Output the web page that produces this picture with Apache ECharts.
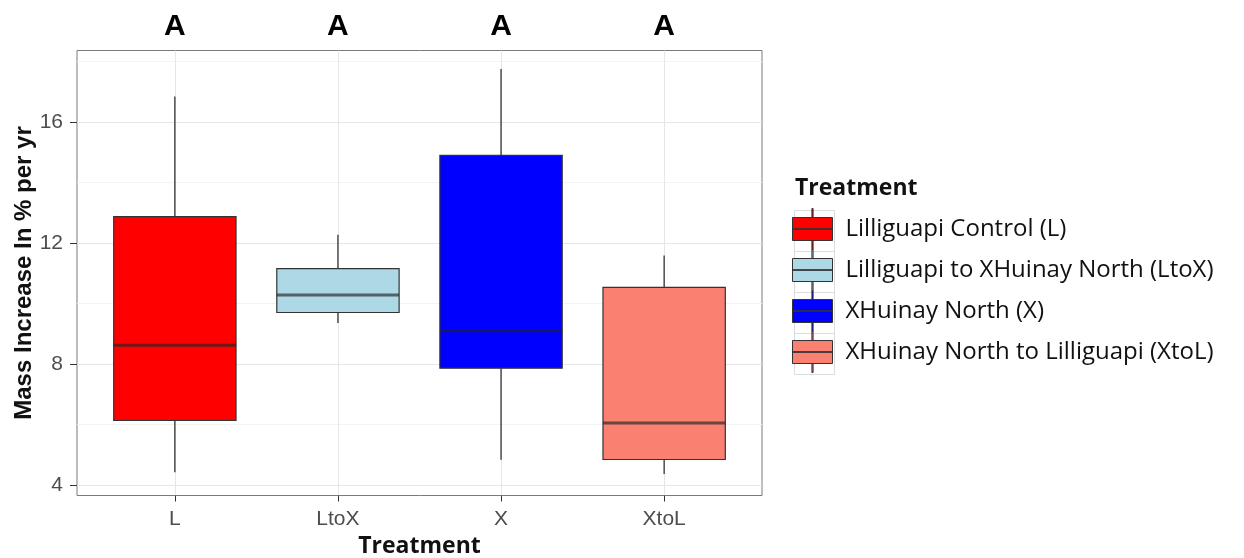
<!DOCTYPE html>
<html>
<head>
<meta charset="utf-8">
<script src="https://cdn.jsdelivr.net/npm/echarts@6/dist/echarts.min.js"></script>
<style>
html,body{margin:0;padding:0;background:#fff;}
#chart{width:1244px;height:558px;}
</style>
</head>
<body>
<div id="chart"></div>
<script>
// ---- data ----
const categories = ['L', 'LtoX', 'X', 'XtoL'];
const seriesNames = ['Lilliguapi Control (L)', 'Lilliguapi to XHuinay North (LtoX)', 'XHuinay North (X)', 'XHuinay North to Lilliguapi (XtoL)'];
const lowWhisker  = [4.42, 9.35, 4.83, 4.36];
const q1          = [6.13, 9.70, 7.86, 4.84];
const median      = [8.62, 10.28, 9.10, 6.05];
const q3          = [12.87, 11.15, 14.89, 10.53];
const highWhisker = [16.84, 12.27, 17.75, 11.58];
const sigLetters  = ['A', 'A', 'A', 'A'];
const yMajorTicks = [4, 8, 12, 16];
const yMinorTicks = [6, 10, 14, 18];
const xTickPositions = [1, 2, 3, 4];
const fillColors = ['#FF0000', '#ADD8E6', '#0000FF', '#FA8072'];

// ---- chart ----
const chart = echarts.init(document.getElementById('chart'));
const Y_MIN = 3.65, Y_MAX = 18.36;
const keyIcon = 'path://M3,9 H37 V32 H3 Z M19.5,0 H20.5 V9 H19.5 Z M19.5,32 H20.5 V41 H19.5 Z M3,20.5 H37 M37,20.5 H3 Z';

function renderBox(params, api) {
  const x = api.value(0);
  const pLo = api.coord([x, api.value(1)]);
  const pQ1 = api.coord([x, api.value(2)]);
  const pMed = api.coord([x, api.value(3)]);
  const pQ3 = api.coord([x, api.value(4)]);
  const pHi = api.coord([x, api.value(5)]);
  const half = api.size([0.75, 0])[0] / 2;
  const cx = pMed[0];
  const lineStyle = { stroke: '#333333', lineWidth: 1.3 };
  return {
    type: 'group',
    children: [
      { type: 'line', shape: { x1: cx, y1: pHi[1], x2: cx, y2: pQ3[1] }, style: lineStyle },
      { type: 'line', shape: { x1: cx, y1: pQ1[1], x2: cx, y2: pLo[1] }, style: lineStyle },
      { type: 'rect', shape: { x: cx - half, y: pQ3[1], width: half * 2, height: pQ1[1] - pQ3[1] },
        style: { fill: api.visual('color'), stroke: '#333333', lineWidth: 1.2 } },
      { type: 'line', shape: { x1: cx - half, y1: pMed[1], x2: cx + half, y2: pMed[1] },
        style: { stroke: 'rgba(35,35,35,0.65)', lineWidth: 3 } },
      { type: 'text', x: cx, y: params.coordSys.y - 24,
        style: { text: sigLetters[params.seriesIndex], fill: '#000', font: 'bold 30px "Liberation Sans", Arial, sans-serif',
                 align: 'center', verticalAlign: 'middle' } }
    ]
  };
}

const series = categories.map((c, i) => ({
  name: seriesNames[i],
  type: 'custom',
  clip: false,
  itemStyle: { color: fillColors[i] },
  encode: { x: 0, y: [1, 2, 3, 4, 5] },
  renderItem: renderBox,
  data: [[xTickPositions[i], lowWhisker[i], q1[i], median[i], q3[i], highWhisker[i]]],
  z: 3
}));

const keyFrames = seriesNames.map((n, i) => ({
  type: 'rect', left: 792, top: 208 + i * 41,
  shape: { width: 40, height: 41 },
  style: { fill: 'none', stroke: '#d8dde0', lineWidth: 1 },
  z: -1
}));

const option = {
  backgroundColor: '#ffffff',
  animation: false,
  title: {
    text: 'Treatment', left: 795, top: 177, padding: 0,
    textStyle: { fontFamily: '"Open Sans", sans-serif', fontWeight: 'bold', fontSize: 23, color: '#111' }
  },
  graphic: keyFrames,
  legend: {
    orient: 'vertical', left: 792, top: 208, padding: 0,
    itemWidth: 40, itemHeight: 41, itemGap: -1,
    symbolKeepAspect: false,
    data: seriesNames.map(n => ({ name: n, icon: keyIcon })),
    itemStyle: { borderColor: '#333333', borderWidth: 1 },
    textStyle: { fontFamily: '"Open Sans", sans-serif', fontSize: 24, color: '#111', padding: [0, 0, 0, 8] }
  },
  grid: {
    left: 77, top: 50.5, width: 685, height: 445,
    outerBoundsMode: 'none', containLabel: false,
    show: true, borderColor: '#7a7a7a', borderWidth: 1, backgroundColor: 'transparent'
  },
  xAxis: {
    type: 'value', min: 0.4, max: 4.6,
    name: 'Treatment', nameLocation: 'middle', nameGap: 39, nameMoveOverlap: false,
    nameTextStyle: { fontFamily: '"Open Sans", sans-serif', fontWeight: 'bold', fontSize: 23, color: '#111' },
    axisLine: { show: false },
    axisTick: { show: true, customValues: xTickPositions, length: 6, lineStyle: { color: '#333' } },
    axisLabel: { customValues: xTickPositions, margin: 13, fontFamily: '"Liberation Sans", Arial, sans-serif',
                 fontSize: 21, color: '#4d4d4d', formatter: v => categories[Math.round(v) - 1] || '' },
    splitLine: { show: true, lineStyle: { color: '#e6e6e6', width: 1 } }
  },
  yAxis: [{
    type: 'value', min: Y_MIN, max: Y_MAX,
    name: 'Mass Increase In % per yr', nameLocation: 'middle', nameGap: 41, nameRotate: 90, nameMoveOverlap: false,
    nameTextStyle: { fontFamily: '"Liberation Sans", Arial, sans-serif', fontWeight: 'bold', fontSize: 24, color: '#111' },
    axisLine: { show: false },
    axisTick: { show: true, customValues: yMajorTicks, length: 7, lineStyle: { color: '#333' } },
    axisLabel: { customValues: yMajorTicks, margin: 14, fontFamily: '"Liberation Sans", Arial, sans-serif',
                 fontSize: 21, color: '#4d4d4d' },
    splitLine: { show: true, lineStyle: { color: '#e6e6e6', width: 1 } }
  }, {
    type: 'value', min: Y_MIN, max: Y_MAX, position: 'left',
    axisLine: { show: false },
    axisTick: { show: false, customValues: yMinorTicks },
    axisLabel: { show: false, customValues: yMinorTicks },
    splitLine: { show: true, lineStyle: { color: '#f3f3f3', width: 1 } }
  }],
  series: series
};
chart.setOption(option);
</script>
</body>
</html>
